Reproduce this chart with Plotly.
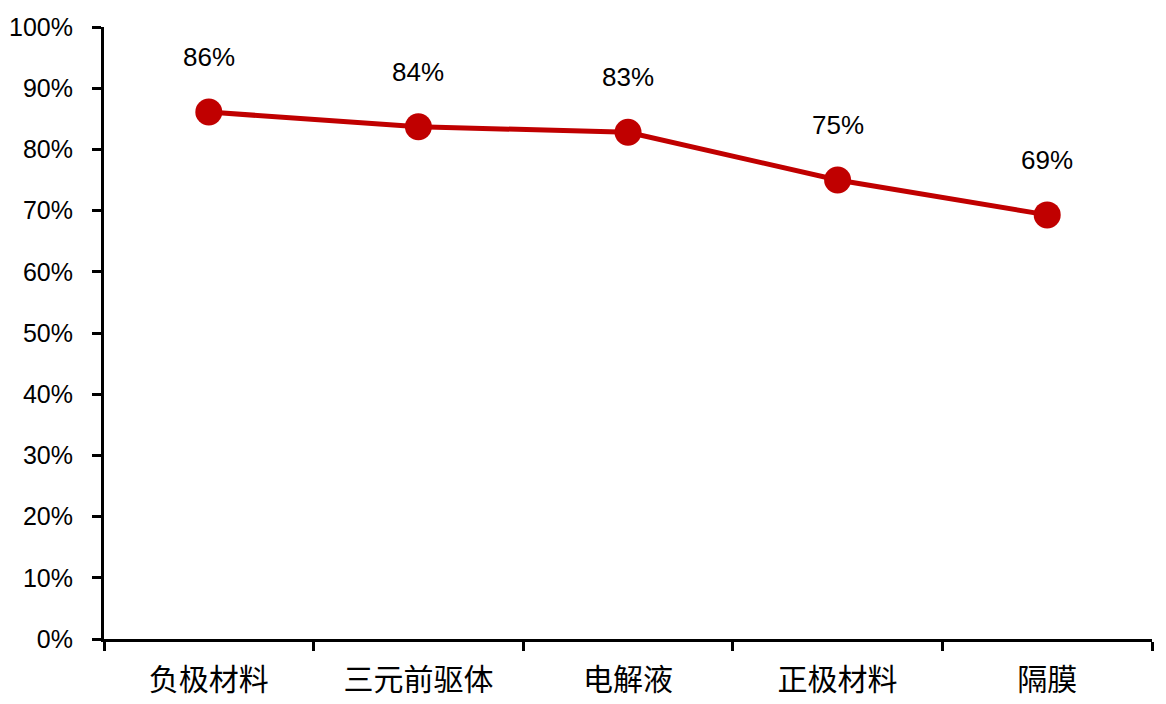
import plotly.graph_objects as go

categories = ["负极材料", "三元前驱体", "电解液", "正极材料", "隔膜"]
values = [86.1, 83.7, 82.8, 75.0, 69.3]
labels = ["86%", "84%", "83%", "75%", "69%"]
y_ticks = [0, 10, 20, 30, 40, 50, 60, 70, 80, 90, 100]
y_tick_text = [f"{v}%" for v in y_ticks]

red = "#C00000"

fig = go.Figure()
fig.add_trace(go.Scatter(
    x=categories, y=values, mode="lines+markers",
    line=dict(color=red, width=5),
    marker=dict(color=red, size=27),
    hoverinfo="skip", showlegend=False,
))
for c, v, t in zip(categories, values, labels):
    fig.add_annotation(x=c, y=v, text=t, showarrow=False, yshift=55,
                       font=dict(size=26, color="black", family="Liberation Sans, Arial"))

fig.update_layout(
    width=1158, height=696,
    margin=dict(l=96, r=14, t=19, b=65),
    paper_bgcolor="white", plot_bgcolor="white",
    xaxis=dict(
        type="category", range=[-0.5, 4.5], tickson="boundaries",
        ticks="outside", ticklen=9, tickwidth=3, tickcolor="black",
        showline=True, linecolor="black", linewidth=3,
        showgrid=False, zeroline=False, automargin=False,
        tickfont=dict(size=30, color="black", family="Noto Sans CJK SC"),
        ticklabelstandoff=12,
    ),
    yaxis=dict(
        range=[0, 100], tickmode="array", tickvals=y_ticks, ticktext=y_tick_text,
        ticks="outside", ticklen=9, tickwidth=3, tickcolor="black",
        showline=True, linecolor="black", linewidth=3,
        showgrid=False, zeroline=False, automargin=False,
        tickfont=dict(size=25, color="black", family="Liberation Sans, Arial"),
        ticklabelstandoff=14,
    ),
)
fig.write_html("out.html")
